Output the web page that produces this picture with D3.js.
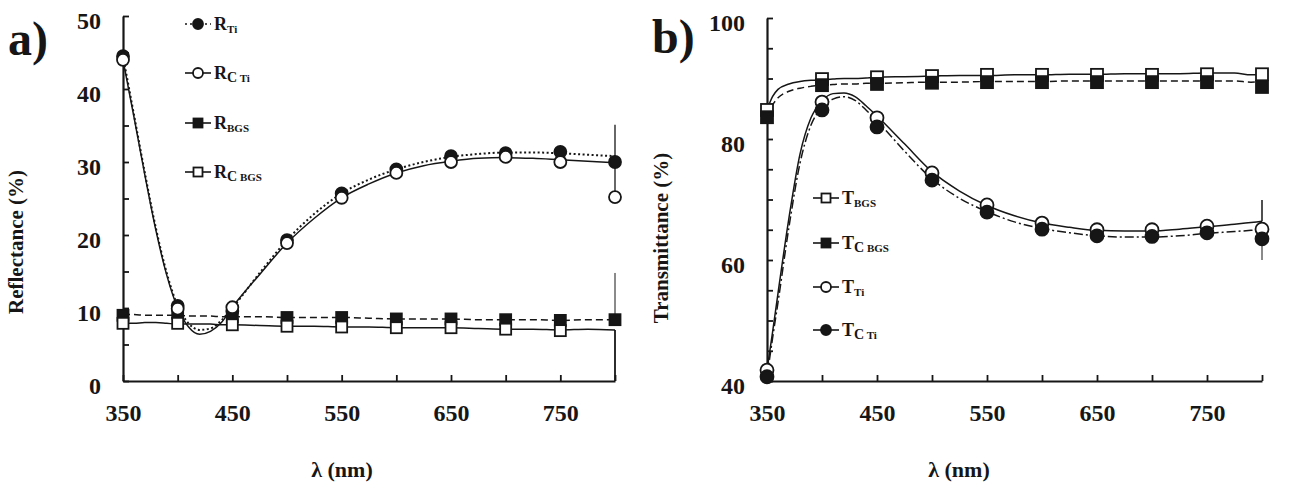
<!DOCTYPE html>
<html><head><meta charset="utf-8">
<script src="https://cdn.jsdelivr.net/npm/d3@7"></script>
<style>
body{margin:0;background:#fff}
svg{display:block}
svg text{font-family:"Liberation Serif","DejaVu Serif",serif !important;}
</style>
</head><body>
<script>
// ---------- data ----------
const wlMarks = [350,400,450,500,550,600,650,700,750,800];

// panel a: reflectance (%)
const rTiMarks   = [44.5,10.3, 9.6,19.3,25.7,29.0,30.8,31.2,31.4,30.0];
const rCTiMarks  = [44.0, 9.9,10.1,18.9,25.1,28.5,30.0,30.7,30.0,25.2];
const rBgsMarks  = [ 9.0, 9.3, 8.8, 8.7, 8.7, 8.5, 8.5, 8.4, 8.3, 8.4];
const rCBgsMarks = [ 7.9, 7.9, 7.7, 7.5, 7.4, 7.3, 7.3, 7.1, 6.9, null];

const curveWlA   = [350,360,370,380,390,400,410,420,430,440,450,475,500,525,550,575,600,625,650,675,700,725,750,775,800];
const rTiCurve   = [44.5,36.5,28.5,21.0,14.8,10.3,7.9,7.0,7.2,8.3,10.0,14.8,19.3,22.9,25.7,27.6,29.0,30.0,30.7,31.1,31.3,31.3,31.2,31.0,30.8];
const rCTiCurve  = [44.0,36.2,28.2,20.7,14.5,10.0,7.4,6.4,6.8,8.0,10.1,14.6,18.9,22.3,25.1,27.0,28.5,29.5,30.1,30.5,30.6,30.5,30.3,30.1,29.9];
const rBgsCurve  = [9.1,9.1,9.0,9.0,9.0,9.0,8.9,8.9,8.9,8.8,8.8,8.8,8.7,8.7,8.7,8.6,8.5,8.5,8.5,8.4,8.4,8.4,8.3,8.4,8.4];
const rCBgsCurve = [7.9,7.9,8.0,8.0,7.9,7.8,7.8,7.8,7.8,7.7,7.7,7.6,7.5,7.5,7.4,7.4,7.3,7.3,7.3,7.2,7.1,7.1,7.0,7.1,7.0];
const spikesA = [{wl:800,from:35.1,to:25.2,w:1.3},{wl:800,from:14.8,to:8.4,w:1},{wl:800,from:7.0,to:0,w:1.8}];

// panel b: transmittance (%)
const tBgsMarks  = [84.8,89.9,90.2,90.4,90.6,90.6,90.6,90.6,90.7,90.7];
const tCBgsMarks = [83.6,88.9,89.1,89.3,89.4,89.4,89.4,89.4,89.4,88.6];
const tTiMarks   = [41.8,86.1,83.5,74.4,69.1,66.1,65.0,65.0,65.6,65.1];
const tCTiMarks  = [40.7,84.8,82.0,73.2,67.9,65.1,64.0,63.9,64.5,63.5];

const curveWlB   = [350,355,360,370,380,390,400,410,420,430,440,450,475,500,525,550,575,600,625,650,675,700,725,750,775,790,800];
const tBgsCurve  = [84.8,87.0,88.2,89.1,89.5,89.7,89.8,89.9,90.0,90.0,90.1,90.2,90.3,90.4,90.5,90.5,90.6,90.6,90.7,90.7,90.8,90.8,90.8,90.9,90.9,90.6,90.8];
const tCBgsCurve = [83.6,85.6,86.8,87.9,88.4,88.7,88.9,89.0,89.1,89.1,89.2,89.2,89.3,89.4,89.4,89.5,89.5,89.5,89.6,89.6,89.6,89.6,89.6,89.6,89.6,89.4,89.5];
const tTiCurve   = [41.8,48.0,54.5,67.0,77.5,83.5,86.3,87.5,87.6,87.0,85.5,83.8,79.2,74.6,71.4,69.0,67.3,66.1,65.4,64.9,64.8,64.8,65.1,65.5,65.9,66.2,66.4];
const tCTiCurve  = [40.7,47.0,53.0,65.5,76.0,82.3,85.2,86.6,87.0,86.4,84.8,83.0,78.0,73.4,70.2,68.0,66.3,65.2,64.5,64.0,63.8,63.8,64.0,64.4,64.7,64.9,65.0];
const spikesB = [{wl:800,from:66.4,to:69.9,w:1.5},{wl:800,from:63.3,to:60.0,w:1}];

const xTicks = [350,400,450,500,550,600,650,700,750,800];
const xLabels = [350,450,550,650,750];
const yTicksA = [0,5,10,15,20,25,30,35,40,45,50];
const yLabelsA = [0,10,20,30,40,50];
const yTicksB = [40,45,50,55,60,65,70,75,80,85,90,95,100];
const yLabelsB = [40,60,80,100];

// ---------- drawing ----------
const W = 1293, H = 486, INK = "#161616";
const FONT = "Liberation Serif";
const svg = d3.select("body").append("svg").attr("width", W).attr("height", H)
  .attr("font-family", FONT);
svg.append("rect").attr("width", W).attr("height", H).attr("fill", "#fff");

const styles = {
  dotted: "2,2.5", solid: null, dashed: "7,4", dashdot: "9,3,2,3"
};

function panel(cfg) {
  const x = d3.scaleLinear().domain([350, 800]).range(cfg.xr);
  const y = d3.scaleLinear().domain(cfg.yd).range(cfg.yr);
  const g = svg.append("g");

  const line = d3.line().defined(d => d[1] != null)
    .x(d => x(d[0])).y(d => y(d[1])).curve(d3.curveMonotoneX);
  cfg.series.forEach(s => {
    g.append("path").datum(s.wl.map((w, i) => [w, s.curve[i]]))
      .attr("d", line).attr("fill", "none").attr("stroke", INK)
      .attr("stroke-width", s.lw || 1.5).attr("stroke-dasharray", styles[s.style]);
  });
  cfg.spikes.forEach(s => {
    g.append("line").attr("x1", x(s.wl)).attr("x2", x(s.wl))
      .attr("y1", y(s.from)).attr("y2", y(s.to)).attr("stroke", INK).attr("stroke-width", s.w);
  });

  const xa = g.append("g").attr("transform", `translate(0,${cfg.yr[0]})`)
    .call(d3.axisBottom(x).tickValues(xTicks).tickSizeInner(-6).tickSizeOuter(0).tickPadding(23)
      .tickFormat(d => xLabels.includes(d) ? d : ""));
  const ya = g.append("g").attr("transform", `translate(${cfg.xr[0]},0)`)
    .call(d3.axisLeft(y).tickValues(cfg.yTicks).tickSizeInner(-6).tickSizeOuter(0).tickPadding(22)
      .tickFormat(d => cfg.yLabels.includes(d) ? d : ""));
  [xa, ya].forEach(a => {
    a.attr("font-family", FONT);
    a.select(".domain").attr("stroke", INK).attr("stroke-width", 2.2);
    a.selectAll(".tick line").attr("stroke", INK).attr("stroke-width", 1.8);
    a.selectAll("text").attr("fill", INK)
      .style("font-size", "24px").style("font-weight", "bold");
  });
  ya.selectAll("text").attr("dy", "0.52em");

  cfg.markOrder.forEach(s => {
    const pts = wlMarks.map((w, i) => [w, s.marks[i]]).filter(d => d[1] != null);
    drawMarkers(g, pts.map(d => [x(d[0]), y(d[1])]), s.shape, s.filled, cfg.msize);
  });

  cfg.series.forEach((s, i) => {
    const ly = cfg.leg.y[i], lx = cfg.leg.x;
    g.append("line").attr("x1", lx - 13).attr("x2", lx + 13).attr("y1", ly).attr("y2", ly)
      .attr("stroke", INK).attr("stroke-width", 1.6)
      .attr("stroke-dasharray", s.style === "dotted" ? "2,3" : null);
    drawMarkers(g, [[lx, ly]], s.shape, s.filled, 10);
    const t = g.append("text").attr("x", lx + 16).attr("y", ly + 6)
      .attr("fill", INK).style("font-weight", "bold");
    t.append("tspan").text(s.main).style("font-size", "18px");
    if (s.subC) t.append("tspan").text(s.subC).attr("dy", 3).style("font-size", "14px");
    t.append("tspan").text(s.sub).attr("dy", s.subC ? 0 : 3).style("font-size", "11px");
  });

  svg.append("text").attr("x", cfg.tag[0]).attr("y", cfg.tag[1]).text(cfg.tagText)
    .attr("fill", INK).style("font-size", "48px").style("font-weight", "bold");
  svg.append("text").attr("transform", `translate(${cfg.ytitle[0]},${cfg.ytitle[1]}) rotate(-90)`)
    .attr("text-anchor", "middle").text(cfg.ytitleText)
    .attr("fill", INK).style("font-size", "21px").style("font-weight", "bold");
  svg.append("text").attr("x", cfg.xtitle[0]).attr("y", cfg.xtitle[1]).attr("text-anchor", "middle")
    .text("λ (nm)").attr("fill", INK).style("font-size", "22px").style("font-weight", "bold");
}

function drawMarkers(g, pts, shape, filled, size) {
  pts.forEach(([px, py]) => {
    if (shape === "circle") {
      g.append("circle").attr("cx", px).attr("cy", py).attr("r", size / 2)
        .attr("fill", filled ? INK : "#fff").attr("stroke", INK).attr("stroke-width", 1.8);
    } else {
      const s = size - 1;
      g.append("rect").attr("x", px - s / 2).attr("y", py - s / 2).attr("width", s).attr("height", s)
        .attr("fill", filled ? INK : "#fff").attr("stroke", INK).attr("stroke-width", 1.8);
    }
  });
}

const sA = {
  rTi:   {main:"R", sub:"Ti", wl:curveWlA, curve:rTiCurve, marks:rTiMarks, shape:"circle", filled:true, style:"dotted", lw:2},
  rCTi:  {main:"R", subC:"C", sub:" Ti", wl:curveWlA, curve:rCTiCurve, marks:rCTiMarks, shape:"circle", filled:false, style:"solid"},
  rBgs:  {main:"R", sub:"BGS", wl:curveWlA, curve:rBgsCurve, marks:rBgsMarks, shape:"square", filled:true, style:"dashed"},
  rCBgs: {main:"R", subC:"C", sub:" BGS", wl:curveWlA, curve:rCBgsCurve, marks:rCBgsMarks, shape:"square", filled:false, style:"solid"}
};
panel({
  xr:[123, 615], yr:[381, 16], yd:[0, 50], yTicks:yTicksA, yLabels:yLabelsA,
  series:[sA.rTi, sA.rCTi, sA.rBgs, sA.rCBgs],
  markOrder:[sA.rBgs, sA.rCBgs, sA.rTi, sA.rCTi],
  spikes:spikesA, msize:12,
  leg:{x:198, y:[24, 73, 123, 172]},
  tag:[8, 55], tagText:"a)",
  ytitle:[23, 242], ytitleText:"Reflectance (%)",
  xtitle:[342, 477]
});

const sB = {
  tBgs:  {main:"T", sub:"BGS", wl:curveWlB, curve:tBgsCurve, marks:tBgsMarks, shape:"square", filled:false, style:"solid"},
  tCBgs: {main:"T", subC:"C", sub:" BGS", wl:curveWlB, curve:tCBgsCurve, marks:tCBgsMarks, shape:"square", filled:true, style:"dashed"},
  tTi:   {main:"T", sub:"Ti", wl:curveWlB, curve:tTiCurve, marks:tTiMarks, shape:"circle", filled:false, style:"solid"},
  tCTi:  {main:"T", subC:"C", sub:" Ti", wl:curveWlB, curve:tCTiCurve, marks:tCTiMarks, shape:"circle", filled:true, style:"dashdot"}
};
panel({
  xr:[767, 1262], yr:[381, 18], yd:[40, 100], yTicks:yTicksB, yLabels:yLabelsB,
  series:[sB.tBgs, sB.tCBgs, sB.tTi, sB.tCTi],
  markOrder:[sB.tBgs, sB.tCBgs, sB.tTi, sB.tCTi],
  spikes:spikesB, msize:13,
  leg:{x:826, y:[198, 243, 287, 330]},
  tag:[652, 53], tagText:"b)",
  ytitle:[668, 238], ytitleText:"Transmittance (%)",
  xtitle:[959, 477]
});
</script>
</body></html>
